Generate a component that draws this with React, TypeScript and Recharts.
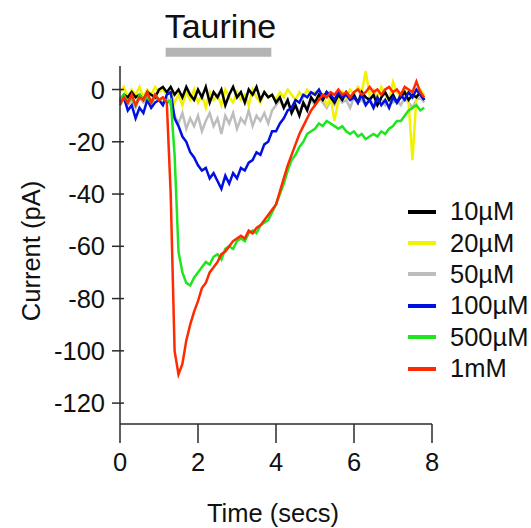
import { LineChart, Line, XAxis, YAxis, ReferenceLine } from "recharts";

// time base (secs)
const time = [
  0, 0.1, 0.2, 0.3, 0.4, 0.5, 0.6, 0.7, 0.8, 0.9,
  1, 1.1, 1.2, 1.3, 1.4, 1.5, 1.6, 1.7, 1.8, 1.9,
  2, 2.1, 2.2, 2.3, 2.4, 2.5, 2.6, 2.7, 2.8, 2.9,
  3, 3.1, 3.2, 3.3, 3.4, 3.5, 3.6, 3.7, 3.8, 3.9,
  4, 4.1, 4.2, 4.3, 4.4, 4.5, 4.6, 4.7, 4.8, 4.9,
  5, 5.1, 5.2, 5.3, 5.4, 5.5, 5.6, 5.7, 5.8, 5.9,
  6, 6.1, 6.2, 6.3, 6.4, 6.5, 6.6, 6.7, 6.8, 6.9,
  7, 7.1, 7.2, 7.3, 7.4, 7.5, 7.6, 7.7, 7.8,
];

// currents (pA)
const c10uM = [
  -4, -2, -3, -1, -3, -2, -4, -1, -2, -3,
  0, 1, -1, 1, -2, 0, -3, 1, -2, -4,
  0, -3, 1, -5, -1, -3, 0, -6, -2, 1,
  -3, -1, -5, 0, -2, 1, -4, -1, -3, -2,
  -5, -3, -7, -4, -9, -6, -10, -5, -8, -3,
  -5, -2, -4, -1, -3, -5, -2, -4, -1, -3,
  -2, -5, -1, -3, -4, -2, -6, -3, -1, -4,
  -2, -5, -3, -1, -4, -2, -3, -1, -4,
];
const c20uM = [
  -1, 1, -3, 0, -2, 1, -3, 0, -2, 1,
  -1, 0, -2, -1, -5, -2, -6, -1, -4, 0,
  -5, -2, -7, -1, -4, -2, -6, 0, -3, -5,
  -1, -4, -2, -6, 0, -3, -5, -1, -3, -2,
  -4, -1, -3, 0, -2, -4, -1, -3, 0, -2,
  -1, -4, -2, -6, -3, -12, -4, -1, -3, 0,
  -2, 1, -1, 7, -2, 0, -3, 1, -2, -4,
  3, -1, -3, 0, -5, -27, -3, 0, -2,
];
const c50uM = [
  -5, -3, -6, -4, -7, -3, -5, -4, -6, -3,
  -4, -5, -3, -6, -10, -13, -9, -15, -11, -14,
  -10, -16, -12, -9, -14, -11, -17, -10, -13, -9,
  -15, -11, -13, -8, -14, -10, -12, -9, -13, -8,
  -6, -4, -7, -5, -8, -6, -9, -5, -7, -4,
  -6, -3, -5, -7, -4, -6, -3, -5, -4, -7,
  -3, -5, -4, -6, -3, -7, -5, -4, -6, -3,
  -5, -4, -6, -3, -5, -7, -4, -3, -5,
];
const c100uM = [
  -5, -3, -8, -6, -11, -7, -9, -4, -7, -5,
  -4, -6, -2, -1, -11, -14, -18, -20, -24, -26,
  -29, -31, -30, -34, -32, -35, -38, -33, -36, -32,
  -34, -30, -31, -28, -27, -24, -25, -21, -20, -16,
  -16, -13, -11, -8, -7, -4, -5, -2, -3, -1,
  -2, 0, -3, -1, -2, -4, -1, -3, -2, -4,
  -3, -5, -2, -6, -4, -7, -3, -6, -4, -7,
  -3, -5, -2, -4, -1, -3, 0, -2, -4,
];
const c500uM = [
  -4, -2, -5, -3, -6, -2, -4, -3, -5, -2,
  -4, -3, -5, -4, -25, -62, -70, -74, -75, -72,
  -70, -68, -66, -67, -64, -63, -65, -61, -60, -61,
  -58, -57, -58, -55, -54, -55, -52, -51, -50, -47,
  -44, -40, -36, -31, -27, -25, -22, -20, -17, -16,
  -15, -13, -14, -12, -13, -14, -15, -14, -16, -17,
  -16, -18, -17, -19, -18, -17, -18, -16, -17, -15,
  -14, -12, -12, -10, -8, -7, -6, -8, -7,
];
const c1mM = [
  -6, -3, -5, -2, -6, -3, -4, -1, -5, -2,
  -4, -3, -5, -40, -100, -109, -105, -96, -90, -85,
  -81, -76, -74, -70, -68, -66, -63, -62, -60, -58,
  -57, -56, -57, -54, -55, -53, -52, -50, -48, -46,
  -44, -39, -34, -29, -25, -21, -17, -14, -11, -8,
  -6, -4, -2, -3, -1, -2, 0, -2, -1, -3,
  -1, 0, -2, -1, 1, -1, 0, -2, 0, 1,
  -1, 0, -2, 1, 0, -1, 3, -1, -3,
];

const yTicks = [-120, -100, -80, -60, -40, -20, 0];
const xTicks = [0, 2, 4, 6, 8];

// taurine application window (secs)
const taurineStart = 1.17;
const taurineEnd = 3.88;

const series = [
  { key: "c50uM", name: "50µM", color: "#bdbdbd", values: c50uM },
  { key: "c20uM", name: "20µM", color: "#f2f200", values: c20uM },
  { key: "c10uM", name: "10µM", color: "#000000", values: c10uM },
  { key: "c100uM", name: "100µM", color: "#0010e0", values: c100uM },
  { key: "c500uM", name: "500µM", color: "#1ee61e", values: c500uM },
  { key: "c1mM", name: "1mM", color: "#ff2a00", values: c1mM },
];
const legendOrder = ["c10uM", "c20uM", "c50uM", "c100uM", "c500uM", "c1mM"];

const data = time.map((t, i) => {
  const row: Record<string, number> = { t };
  series.forEach((s) => (row[s.key] = s.values[i]));
  return row;
});

const FONT = "'Liberation Sans', Arial, sans-serif";
const AXIS = "#2a2a2a";
const FS = 25.5;

const YTick = (props: any) => {
  const { x, y, payload } = props;
  return (
    <g>
      <line x1={x - 8} x2={x + 4} y1={y} y2={y} stroke={AXIS} strokeWidth={1.5} />
      <text
        x={x - 15}
        y={y}
        textAnchor="end"
        dominantBaseline="central"
        fontSize={FS}
        fontFamily={FONT}
        fill="#111"
      >
        {payload.value}
      </text>
    </g>
  );
};

export default function App() {
  return (
    <div style={{ position: "absolute", left: 0, top: 0, width: 531, height: 528, background: "#fff" }}>
      <LineChart
        width={531}
        height={528}
        data={data}
        margin={{ top: 66, right: 99, bottom: 0, left: 0 }}
      >
        <XAxis
          dataKey="t"
          type="number"
          domain={[0, 8]}
          ticks={xTicks}
          height={104}
          tickSize={19}
          tickMargin={10}
          stroke={AXIS}
          strokeWidth={1.5}
          tick={{ fontSize: FS, fontFamily: FONT, fill: "#111" }}
          label={{
            content: (p: any) => (
              <text
                x={p.viewBox.x + p.viewBox.width / 2 - 3}
                y={522}
                textAnchor="middle"
                fontSize={FS}
                fontFamily={FONT}
                fill="#111"
              >
                Time (secs)
              </text>
            ),
          }}
        />
        <YAxis
          type="number"
          domain={[-128, 9]}
          ticks={yTicks}
          allowDataOverflow
          width={120}
          tickSize={0}
          tickMargin={0}
          tickLine={false}
          stroke={AXIS}
          strokeWidth={1.5}
          tick={<YTick />}
          label={{
            content: () => (
              <text
                x={31}
                y={251}
                transform="rotate(-90 31 251)"
                textAnchor="middle"
                dominantBaseline="central"
                fontSize={FS}
                fontFamily={FONT}
                fill="#111"
              >
                Current (pA)
              </text>
            ),
          }}
        />
        <ReferenceLine
          segment={[
            { x: taurineStart, y: 14.3 },
            { x: taurineEnd, y: 14.3 },
          ]}
          ifOverflow="visible"
          stroke="#b4b4b4"
          strokeWidth={9}
          label={{
            content: (p: any) => {
              const vb = p.viewBox || {};
              const cx = (vb.x ?? 165) + (vb.width ?? 106) / 2 + 2;
              return (
                <text
                  x={cx}
                  y={(vb.y ?? 52) - 14}
                  textAnchor="middle"
                  fontSize={34}
                  fontFamily={FONT}
                  fill="#111"
                >
                  Taurine
                </text>
              );
            },
          }}
        />
        {series.map((s) => (
          <Line
            key={s.key}
            dataKey={s.key}
            name={s.name}
            type="linear"
            stroke={s.color}
            strokeWidth={2.5}
            dot={false}
            activeDot={false}
            isAnimationActive={false}
          />
        ))}
      </LineChart>
      <div style={{ position: "absolute", left: 408, top: 196, fontFamily: FONT, fontSize: FS, color: "#111" }}>
        {legendOrder.map((k) => {
          const s = series.find((x) => x.key === k)!;
          return (
            <div key={k} style={{ display: "flex", alignItems: "center", height: 31.4 }}>
              <div style={{ width: 28, height: 4, background: s.color, marginRight: 14 }} />
              <span>{s.name}</span>
            </div>
          );
        })}
      </div>
    </div>
  );
}
